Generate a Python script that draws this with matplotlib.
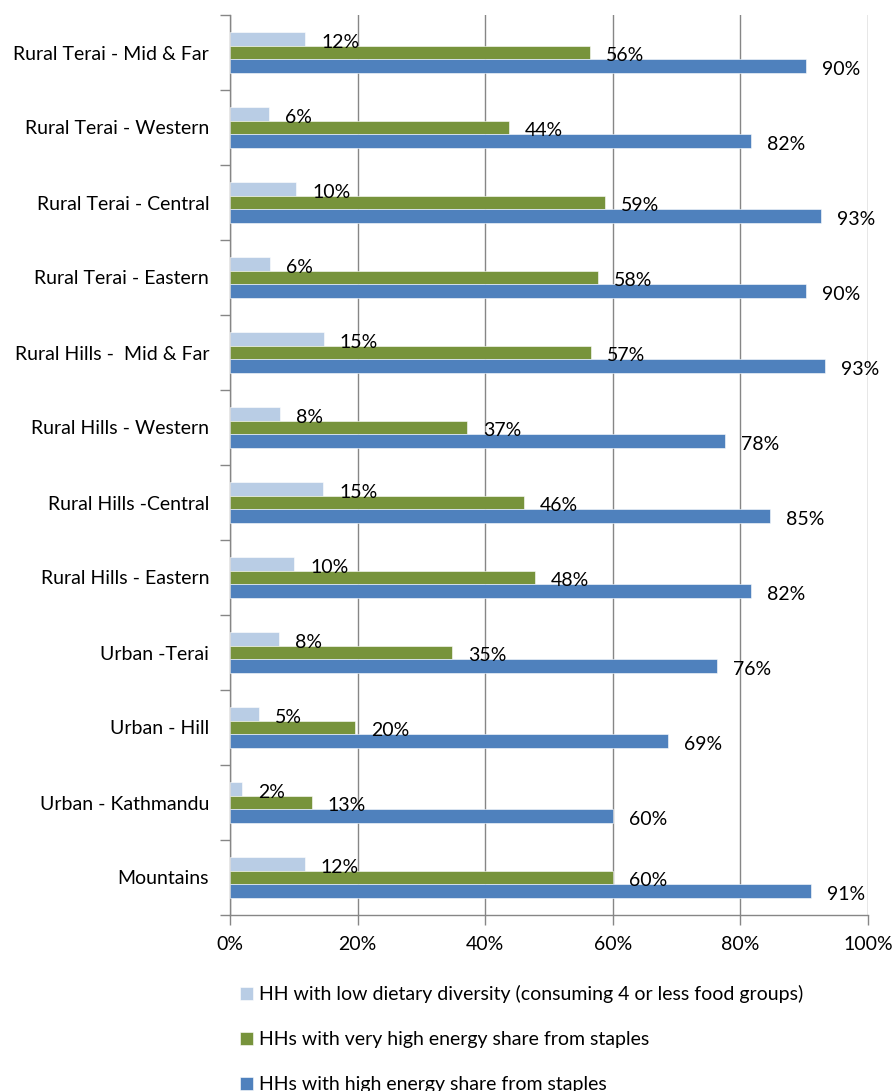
import matplotlib
matplotlib.use("Agg")
import matplotlib.pyplot as plt
import numpy as np

# categories from bottom to top
categories = ["Mountains", "Urban - Kathmandu", "Urban - Hill", "Urban -Terai",
              "Rural Hills - Eastern", "Rural Hills -Central", "Rural Hills - Western",
              "Rural Hills -  Mid & Far", "Rural Terai - Eastern", "Rural Terai - Central",
              "Rural Terai - Western", "Rural Terai - Mid & Far"]
low_diversity = [11.7, 1.9, 4.6, 7.7, 10.1, 14.6, 7.9, 14.7, 6.3, 10.4, 6.1, 11.8]
very_high_share = [60.1, 12.8, 19.6, 34.8, 47.8, 46.1, 37.2, 56.6, 57.7, 58.7, 43.7, 56.4]
high_share = [91.1, 60.0, 68.6, 76.3, 81.7, 84.6, 77.6, 93.2, 90.3, 92.6, 81.7, 90.3]
series_names = ["HH with low dietary diversity (consuming 4 or less food groups)",
                "HHs with very high energy share from staples",
                "HHs with high energy share from staples"]
xticks = [0, 20, 40, 60, 80, 100]

plt.rcParams['font.family'] = ['Lato', 'DejaVu Sans']
fs = 14

fig = plt.figure(figsize=(8.95, 10.91), dpi=100)
ax = fig.add_axes([230/895, 1-915/1091, 638/895, 900/1091])

y = np.arange(len(categories))
h = 0.18
colors = ["#B9CDE5", "#77933C", "#4F81BD"]
offsets = [h, 0, -h]
series = [low_diversity, very_high_share, high_share]
bars_list = []
for vals, off, col, name in zip(series, offsets, colors, series_names):
    b = ax.barh(y + off, vals, height=h, color=col, edgecolor="white", linewidth=0.4, label=name, zorder=3)
    bars_list.append(b)
    for yy, v in zip(y + off, vals):
        ax.annotate(f"{v:.0f}%", xy=(v, yy), xytext=(11.5, -2.5), textcoords="offset points",
                    ha="left", va="center", fontsize=fs, color="black", zorder=4)

ax.set_xlim(0, 100)
ax.set_ylim(-0.5, len(categories) - 0.5)
ax.set_xticks(xticks)
ax.set_xticklabels([f"{t}%" for t in xticks], fontsize=fs)
ax.set_yticks(y)
ax.set_yticklabels(categories, fontsize=fs)
ax.set_yticks(np.arange(len(categories) + 1) - 0.5, minor=True)
ax.tick_params(axis='y', which='major', length=0, pad=15)
ax.tick_params(axis='y', which='minor', length=7, direction='out', color="#868686", width=1)
ax.tick_params(axis='x', which='major', length=7, direction='out', color="#868686", width=1, pad=8)

ax.grid(axis='x', color="#868686", linewidth=1, zorder=0)
for s in ["top", "right"]:
    ax.spines[s].set_visible(False)
for s in ["left", "bottom"]:
    ax.spines[s].set_color("#868686")
    ax.spines[s].set_linewidth(1)

fig.legend(handles=bars_list, labels=series_names, loc="upper left",
           bbox_to_anchor=(240/895, 1-985/1091), frameon=False, fontsize=fs,
           handlelength=0.65, handleheight=0.65, handletextpad=0.35, labelspacing=1.45,
           borderaxespad=0, borderpad=0)

fig.savefig("out.png", dpi=100)
